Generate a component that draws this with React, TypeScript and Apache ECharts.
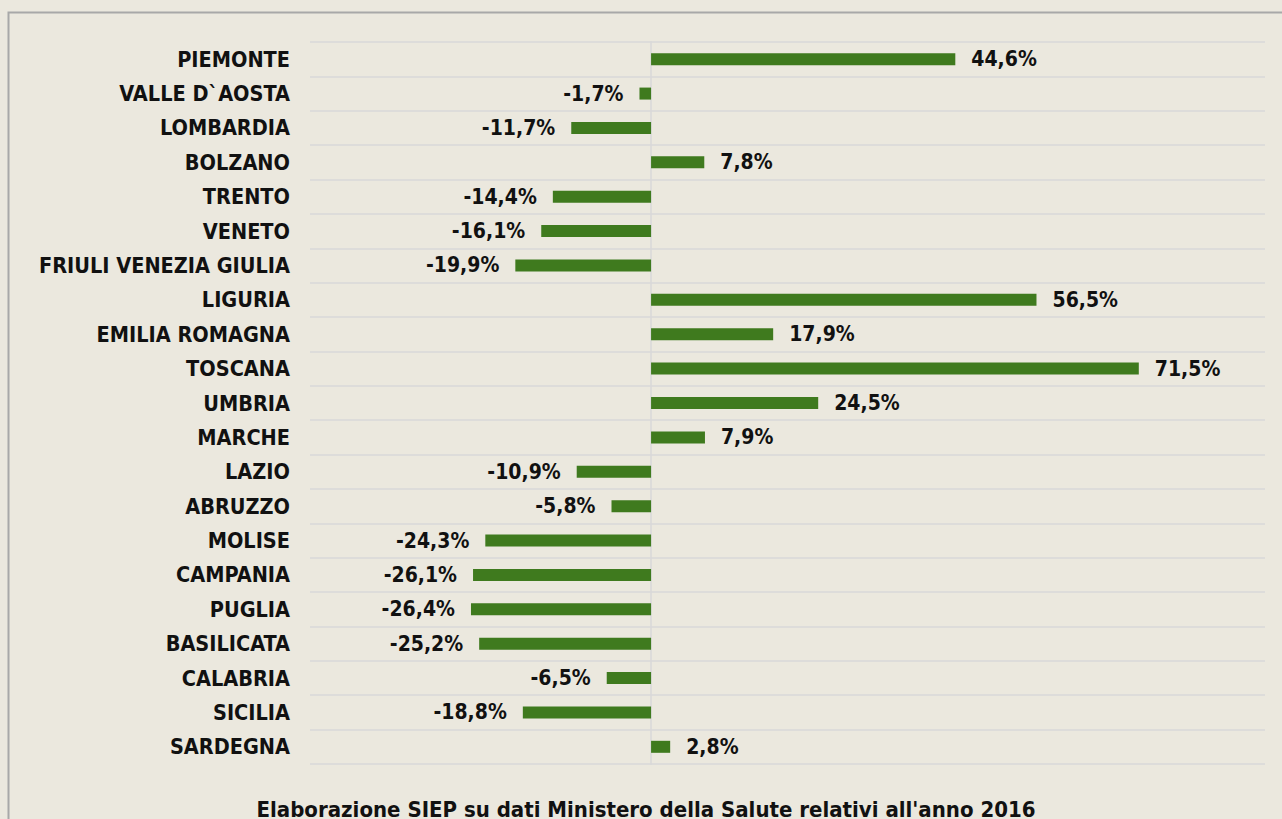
import React, { useEffect, useRef } from "react";
import * as echarts from "echarts";

const categories = [
  "PIEMONTE", "VALLE D`AOSTA", "LOMBARDIA", "BOLZANO", "TRENTO", "VENETO",
  "FRIULI VENEZIA GIULIA", "LIGURIA", "EMILIA ROMAGNA", "TOSCANA", "UMBRIA",
  "MARCHE", "LAZIO", "ABRUZZO", "MOLISE", "CAMPANIA", "PUGLIA", "BASILICATA",
  "CALABRIA", "SICILIA", "SARDEGNA",
];
const values = [
  44.6, -1.7, -11.7, 7.8, -14.4, -16.1, -19.9, 56.5, 17.9, 71.5, 24.5, 7.9,
  -10.9, -5.8, -24.3, -26.1, -26.4, -25.2, -6.5, -18.8, 2.8,
];
const footerText = "Elaborazione SIEP su dati Ministero della Salute relativi all'anno 2016";

const FONT = "'DejaVu Sans Condensed', 'DejaVu Sans', sans-serif";

export default function App() {
  const ref = useRef<HTMLDivElement>(null);
  useEffect(() => {
    if (!ref.current) return;
    const chart = echarts.init(ref.current, null, { renderer: "svg" });
    const fmt = (v: number) => v.toFixed(1).replace(".", ",") + "%";
    chart.setOption({
      animation: false,
      backgroundColor: "#ebe8de",
      grid: { left: 310, right: 17, top: 42, bottom: 55, containLabel: false },
      xAxis: {
        type: "value",
        min: -50,
        max: 90,
        axisLabel: { show: false },
        axisLine: { show: false },
        axisTick: { show: false },
        splitLine: { show: false },
      },
      yAxis: {
        type: "category",
        inverse: true,
        data: categories,
        axisLine: { show: true, onZero: true, lineStyle: { color: "#d8d8d8", width: 1.5 } },
        axisTick: { show: false },
        splitLine: { show: true, lineStyle: { color: "#d8d8d8", width: 1.5 } },
        axisLabel: {
          position: "left",
          margin: 20,
          fontFamily: FONT,
          fontWeight: "bold",
          fontSize: 21.5,
          color: "#111",
        },
      },
      series: [
        {
          type: "bar",
          data: values.map((v) => ({
            value: v,
            label: { position: v >= 0 ? "right" : "left" },
          })),
          barWidth: 12,
          itemStyle: { color: "#3f7a1e" },
          label: {
            show: true,
            distance: 16,
            fontFamily: FONT,
            fontWeight: "bold",
            fontSize: 21,
            color: "#111",
            formatter: (p: any) => fmt(p.value),
          },
        },
      ],
      graphic: [
        {
          type: "rect",
          shape: { x: 8.5, y: 12.5, width: 1400, height: 900 },
          style: { fill: "none", stroke: "#a8a8a8", lineWidth: 2 },
          silent: true,
        },
        {
          type: "text",
          x: 646,
          y: 809,
          style: {
            text: footerText,
            fontFamily: FONT,
            fontWeight: "bold",
            fontSize: 22,
            fill: "#111",
            textAlign: "center",
            textVerticalAlign: "middle",
          },
        },
      ],
    });
    return () => chart.dispose();
  }, []);
  return (
    <div
      ref={ref}
      style={{ position: "fixed", left: 0, top: 0, width: 1282, height: 819 }}
    />
  );
}
